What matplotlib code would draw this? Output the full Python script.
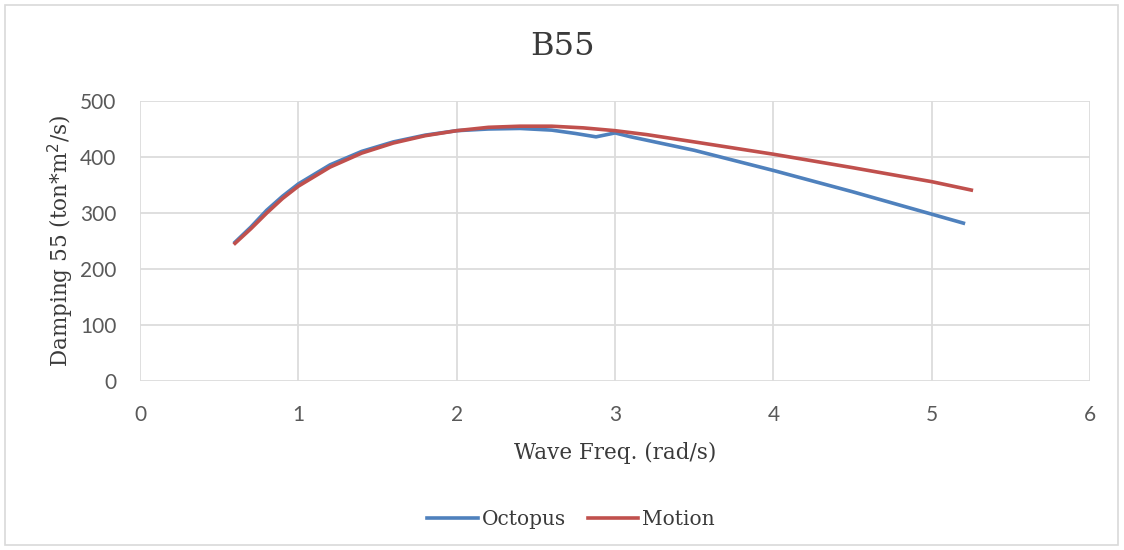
import matplotlib
matplotlib.use("Agg")
import matplotlib.pyplot as plt
from matplotlib.patches import Rectangle

# --- data ---
freq_octopus = [0.6, 0.7, 0.8, 0.9, 1.0, 1.2, 1.4, 1.6, 1.8, 2.0, 2.2, 2.4, 2.6,
                2.75, 2.88, 3.0, 3.1, 3.2, 3.5, 4.0, 4.5, 5.0, 5.2]
octopus = [248, 275, 305, 330, 352, 386, 410, 427, 439, 447, 450, 451, 448,
           442, 436, 443, 436, 430, 412, 376, 338, 298, 282]

freq_motion = [0.6, 0.7, 0.8, 0.9, 1.0, 1.2, 1.4, 1.6, 1.8, 2.0, 2.2, 2.4, 2.6,
               2.8, 3.0, 3.2, 3.5, 4.0, 4.5, 5.0, 5.25]
motion = [246, 272, 300, 326, 348, 382, 407, 425, 438, 447, 453, 455, 455,
          452, 447, 440, 427, 405, 381, 356, 341]

x_ticks = [0, 1, 2, 3, 4, 5, 6]
y_ticks = [0, 100, 200, 300, 400, 500]

plt.rcParams['font.family'] = ['DejaVu Serif']
text_col = '#595959'
serif_col = '#3a3a3a'

fig = plt.figure(figsize=(11.24, 5.5), dpi=100)
ax = fig.add_axes([0.1246, 0.307, 0.8452, 0.5094])

ax.plot(freq_octopus, octopus, color='#4f81bd', lw=2.6, label='Octopus')
ax.plot(freq_motion, motion, color='#c0504d', lw=2.6, label='Motion')

ax.set_xlim(0, 6)
ax.set_ylim(0, 500)
ax.set_xticks(x_ticks)
ax.set_yticks(y_ticks)
ax.grid(True, color='#dcdcdc', lw=1.3)
ax.set_axisbelow(True)
for s in ax.spines.values():
    s.set_visible(False)
ax.tick_params(length=0, labelsize=15, colors=text_col, pad=17)
for lbl in ax.get_xticklabels() + ax.get_yticklabels():
    lbl.set_family('Lato')

ax.set_xlabel('Wave Freq. (rad/s)', fontsize=15.5, color=serif_col, labelpad=12)
ax.set_ylabel('Damping 55 (ton*m$^2$/s)', fontsize=15.5, color=serif_col, labelpad=3)
fig.text(0.5, 0.915, 'B55', ha='center', va='center', fontsize=23, color=serif_col)

fig.legend(loc='center', bbox_to_anchor=(0.508, 0.056), ncol=2, frameon=False,
           fontsize=14.5, handlelength=2.5, handletextpad=0.2, columnspacing=1.1,
           labelcolor=serif_col)

# outer chart frame
fig.patches.append(Rectangle((0.0045, 0.009), 0.99, 0.982, transform=fig.transFigure,
                             fill=False, edgecolor='#d9d9d9', lw=1.2))

fig.savefig('out.png', dpi=100)
